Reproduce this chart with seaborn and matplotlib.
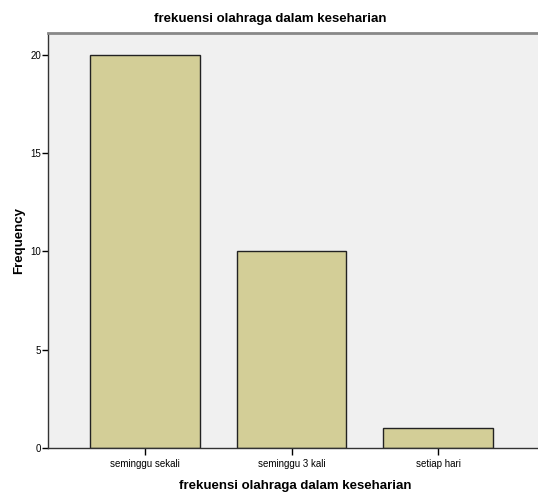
import matplotlib
matplotlib.use("Agg")
import matplotlib.pyplot as plt
import seaborn as sns
import pandas as pd

categories = ["seminggu sekali", "seminggu 3 kali", "setiap hari"]
frequency = [20, 10, 1]
y_ticks = [0, 5, 10, 15, 20]

df = pd.DataFrame({"kategori": categories, "Frequency": frequency})

sns.set_style("white", {"text.color": "black", "axes.labelcolor": "black",
                        "xtick.color": "black", "ytick.color": "black"})
plt.rcParams["font.family"] = ["Liberation Sans", "DejaVu Sans"]

fig = plt.figure(figsize=(5.38, 4.93), dpi=100)
ax = fig.add_axes([48 / 538, 45 / 493, 1 - 48 / 538 + 0.01, (448 - 33) / 493])
ax.set_facecolor("#F0F0F0")

sns.barplot(data=df, x="kategori", y="Frequency", color="#D3CE97",
            saturation=1, width=0.75, edgecolor="#222222", linewidth=1, ax=ax)

ax.set_xlim(-0.664, 2.72)
ax.set_ylim(0, 21.1)
ax.set_yticks(y_ticks)
ax.tick_params(axis="y", direction="out", length=4, width=1, labelsize=7, pad=1, left=True)
ax.tick_params(axis="x", direction="out", length=5, width=1, labelsize=7, pad=3, bottom=True)

for s in ["left", "bottom"]:
    ax.spines[s].set_color("#333333")
    ax.spines[s].set_linewidth(1)
ax.spines["top"].set_color("#888888")
ax.spines["top"].set_linewidth(2)
ax.spines["right"].set_visible(False)

ax.set_xlabel("frekuensi olahraga dalam keseharian", fontsize=9.5, fontweight="bold", labelpad=8)
ax.set_ylabel("Frequency", fontsize=9.5, fontweight="bold", labelpad=4)
fig.text(270 / 538, 1 - 19 / 493, "frekuensi olahraga dalam keseharian",
         ha="center", va="center", fontsize=9.5, fontweight="bold")

fig.savefig("out.png", dpi=100)
